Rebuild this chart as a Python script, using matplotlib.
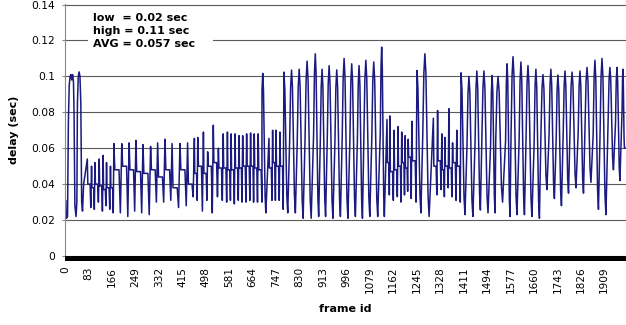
import numpy as np
import matplotlib
matplotlib.use("Agg")
import matplotlib.pyplot as plt
import matplotlib.transforms as mtransforms
from matplotlib.patches import Rectangle

# ── Data ────────────────────────────────────────────────────────────────────
# opening frames, explicit turning points (two early full swings)
START_FRAME = [0, 2, 5, 9, 12, 15, 18, 21, 24, 27, 30, 32, 35, 39, 42, 44, 47, 50, 53, 56, 59, 62, 66]
START_DELAY = [0.024, 0.031, 0.021, 0.022, 0.075, 0.095, 0.100, 0.101, 0.098, 0.101, 0.097, 0.080,
               0.028, 0.022, 0.030, 0.085, 0.100, 0.1025, 0.100, 0.085, 0.030, 0.025, 0.040]

# one entry per cycle: frame of the top, top delay, plateau delay (None = full swing),
# bottom delay reached before the next top
CYCLE_FRAME = (
    [79, 94, 106, 121, 135, 147, 161]                                        # low band
    + [173, 201, 227, 251, 276, 303, 328, 354, 379, 407, 434, 458, 470]      # 0.05 band
    + [490, 505, 525, 543, 560, 575, 588, 602, 616, 629, 643, 657, 670, 684]
    + [700, 722, 735, 747, 761]
    + [775, 802, 829, 857, 886, 910, 935, 962, 988, 1015, 1041, 1065, 1093, 1121]
    + [1140, 1150, 1165, 1179, 1192, 1204, 1215, 1228]
    + [1246, 1274]
    + [1304, 1319, 1334, 1345, 1359, 1372, 1387]
    + [1402, 1430, 1458, 1483, 1512, 1533, 1565, 1586, 1614, 1639, 1667, 1692,
       1720, 1745, 1770, 1795, 1823, 1848, 1876, 1901, 1929, 1954, 1975]
)
CYCLE_HIGH = (
    [0.054, 0.050, 0.052, 0.054, 0.056, 0.052, 0.050]
    + [0.0626, 0.0625, 0.063, 0.0644, 0.062, 0.061, 0.063, 0.065, 0.0626, 0.0626, 0.063, 0.0655, 0.066]
    + [0.069, 0.058, 0.0728, 0.060, 0.068, 0.069, 0.068, 0.068, 0.067, 0.067, 0.068, 0.0685, 0.068, 0.068]
    + [0.1017, 0.0655, 0.070, 0.070, 0.069]
    + [0.1024, 0.1035, 0.104, 0.1085, 0.1126, 0.104, 0.106, 0.1036, 0.110, 0.107, 0.106, 0.109, 0.108, 0.1163]
    + [0.076, 0.078, 0.070, 0.072, 0.069, 0.067, 0.065, 0.075]
    + [0.1033, 0.1126]
    + [0.0767, 0.081, 0.068, 0.066, 0.082, 0.063, 0.070]
    + [0.102, 0.100, 0.103, 0.103, 0.1005, 0.100, 0.107, 0.111, 0.108, 0.106, 0.104, 0.101,
       0.104, 0.1008, 0.103, 0.1024, 0.103, 0.105, 0.109, 0.110, 0.105, 0.105, 0.104]
)
CYCLE_LEVEL = (
    [0.040, 0.038, 0.040, 0.039, 0.037, 0.038, 0.038]
    + [0.048, 0.050, 0.048, 0.047, 0.046, 0.048, 0.044, 0.048, 0.038, 0.048, 0.040, 0.046, 0.050]
    + [0.046, 0.050, 0.052, 0.049, 0.049, 0.048, 0.048, 0.049, 0.049, 0.050, 0.050, 0.050, 0.049, 0.048]
    + [None, 0.049, 0.052, 0.050, 0.050]
    + [None] * 14
    + [0.052, 0.047, 0.048, 0.050, 0.052, 0.049, 0.055, 0.053]
    + [None, None]
    + [0.050, 0.053, 0.048, 0.050, 0.049, 0.052, 0.050]
    + [None] * 23
)
CYCLE_LOW = (
    [0.027, 0.026, 0.030, 0.025, 0.028, 0.026, 0.024]
    + [0.024, 0.022, 0.025, 0.024, 0.023, 0.030, 0.030, 0.031, 0.027, 0.028, 0.033, 0.031, 0.025]
    + [0.031, 0.024, 0.033, 0.031, 0.030, 0.031, 0.029, 0.031, 0.030, 0.030, 0.031, 0.030, 0.030, 0.030]
    + [0.024, 0.031, 0.031, 0.031, 0.026]
    + [0.024, 0.024, 0.021, 0.021, 0.022, 0.022, 0.021, 0.022, 0.021, 0.022, 0.021, 0.022, 0.022, 0.022]
    + [0.034, 0.031, 0.033, 0.030, 0.034, 0.036, 0.032, 0.030]
    + [0.024, 0.022]
    + [0.034, 0.037, 0.033, 0.038, 0.033, 0.031, 0.030]
    + [0.023, 0.022, 0.0256, 0.024, 0.024, 0.030, 0.022, 0.023, 0.023, 0.022, 0.021, 0.037,
       0.032, 0.028, 0.035, 0.038, 0.035, 0.041, 0.026, 0.023, 0.048, 0.042, 0.060]
)
END_FRAME, END_DELAY = 1986, 0.060

X_TICKS = list(range(0, 1910, 83))
Y_TICKS = [0, 0.02, 0.04, 0.06, 0.08, 0.1, 0.12, 0.14]
Y_LABELS = ["0", "0.02", "0.04", "0.06", "0.08", "0.1", "0.12", "0.14"]
NOTE = "low  = 0.02 sec\nhigh = 0.11 sec\nAVG = 0.057 sec"

LINE_COLOR = "#1a1a80"
GRID_COLOR = "#5a5a5a"

# rounded outline of one full swing: offset from its top (cycle lengths) and
# share of the top-to-bottom span already covered at that offset
SWING_OFFSET = [-0.25, -0.12, 0.0, 0.12, 0.25, 0.38, 0.5]
SWING_SHARE = [0.5, 0.12, 0.0, 0.12, 0.5, 0.88, 1.0]


def build_trace():
    """Join the read turning points into one polyline."""
    fx, fy = list(START_FRAME), list(START_DELAY)
    nxt = CYCLE_FRAME[1:] + [END_FRAME]

    def add(x, y):
        if x > fx[-1]:
            fx.append(x)
            fy.append(y)

    for f, n, hi, lvl, lo in zip(CYCLE_FRAME, nxt, CYCLE_HIGH, CYCLE_LEVEL, CYCLE_LOW):
        p = n - f
        if lvl is None:
            for off, share in zip(SWING_OFFSET, SWING_SHARE):
                add(f + off * p, hi - share * (hi - lo))
        else:
            add(f, hi)
            add(f + 0.12 * p, lvl)
            add(f + 0.65 * p, lvl)
            add(f + 0.82 * p, lo)
    add(END_FRAME, END_DELAY)
    return np.array(fx), np.array(fy)


fig = plt.figure(figsize=(6.26, 3.25), dpi=100)
ax = fig.add_axes([65 / 626, 69 / 325, 561 / 626, 252 / 325])

frames, delays = build_trace()
ax.plot(frames, delays, color=LINE_COLOR, lw=1.1, zorder=2)

ax.set_xlim(0, END_FRAME)
ax.set_ylim(0, 0.1403)

ax.set_yticks(Y_TICKS)
ax.set_yticklabels(Y_LABELS)
ax.set_xticks(X_TICKS)
ax.set_xticklabels([str(t) for t in X_TICKS], rotation=90)
ax.tick_params(axis="y", length=2.2, width=0.8, color="#888888", pad=5, labelsize=7.7)
ax.tick_params(axis="x", length=0, pad=7.7, labelsize=7.6)

ax.yaxis.grid(True, color=GRID_COLOR, lw=0.8)
ax.set_axisbelow(True)
for s in ("top", "right", "bottom"):
    ax.spines[s].set_visible(False)
ax.spines["left"].set_color("#888888")
ax.spines["left"].set_linewidth(0.8)

# dense category tick marks form a solid black band under the axis
trans = mtransforms.blended_transform_factory(ax.transData, ax.transAxes)
ax.add_patch(Rectangle((0, -4.7 / 252), END_FRAME, 4.7 / 252, transform=trans,
                       facecolor="black", edgecolor="none", clip_on=False, zorder=3))

ax.set_ylabel("delay (sec)", fontsize=8, fontweight="bold")
ax.yaxis.set_label_coords(-0.082, 0.5)
ax.set_xlabel("frame id", fontsize=8, fontweight="bold")
ax.xaxis.set_label_coords(0.5, -0.19)

# note box (white background hides the gridline behind it)
ax.add_patch(Rectangle((23 / 561, 194 / 252), 125 / 561, 54 / 252, transform=ax.transAxes,
                       facecolor="white", edgecolor="none", zorder=2.5))
ax.text(28 / 561, 243 / 252, NOTE, transform=ax.transAxes, ha="left", va="top",
        fontsize=8, fontweight="bold", linespacing=1.35, zorder=3)

fig.savefig("out.png", dpi=100)
